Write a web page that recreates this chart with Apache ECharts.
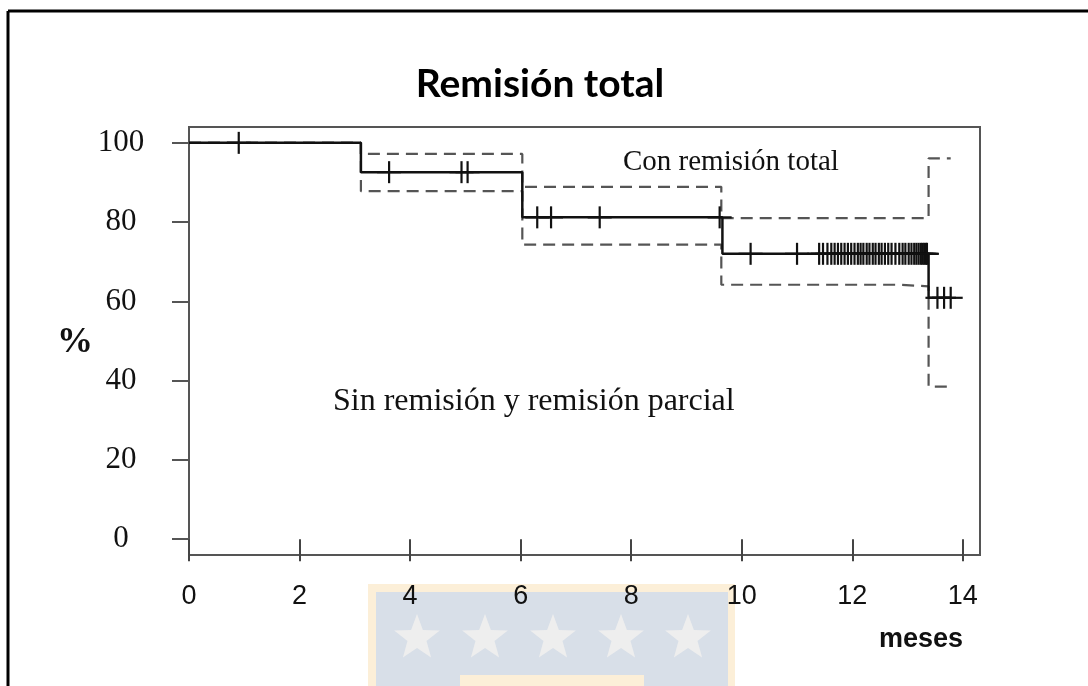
<!DOCTYPE html>
<html>
<head>
<meta charset="utf-8">
<script src="https://cdn.jsdelivr.net/npm/echarts@6/dist/echarts.min.js"></script>
<style>
  html, body { margin: 0; padding: 0; background: #fff; }
  #chart { width: 1088px; height: 686px; }
</style>
</head>
<body>
<div id="chart"></div>
<script>
// ---- data ----
const titleText = 'Remisión total';
const xTickValues = [0, 2, 4, 6, 8, 10, 12, 14];
const yTickValues = [0, 20, 40, 60, 80, 100];
const xAxisName = 'meses';
const yAxisName = '%';
const upperLabel = 'Con remisión total';
const lowerLabel = 'Sin remisión y remisión parcial';

// Kaplan-Meier step curve (months, %)
const kmTimes = [0, 3.11, 6.03, 9.65, 13.38, 13.78];
const kmSurv  = [100, 92.6, 81.2, 72.0, 60.9, 60.9];
// Confidence band (dashed)
const upperTimes = [0, 3.11, 6.03, 9.63, 13.38, 13.78];
const upperSurv  = [100, 97.2, 88.9, 81.0, 96.1, 96.1];
const lowerTimes = [0, 3.11, 6.03, 9.63, 12.85, 13.38, 13.78];
const lowerSurv  = [100, 87.8, 74.3, 64.2, 63.8, 38.5, 38.5];
// censored observations (months)
const censorTimes = [
  0.9,
  3.62, 4.93, 5.04,
  6.30, 6.55, 7.43, 9.60,
  10.16, 11.00,
  11.40, 11.47, 11.55, 11.62, 11.68, 11.74, 11.80, 11.86, 11.92, 11.98,
  12.04, 12.10, 12.15, 12.20, 12.26, 12.31, 12.37, 12.42, 12.48, 12.53,
  12.59, 12.65, 12.71, 12.78, 12.85, 12.91, 12.96, 13.02, 13.07, 13.12,
  13.16, 13.20, 13.24, 13.27, 13.30, 13.33, 13.35,
  13.54, 13.66, 13.78
];

// ---- helpers ----
function pairs(xs, ys) { return xs.map((x, i) => [x, ys[i]]); }
function survAt(t) {
  let s = kmSurv[0];
  for (let i = 1; i < kmTimes.length; i++) { if (kmTimes[i] < t) s = kmSurv[i]; }
  return s;
}
const censorData = censorTimes.map(t => [t, survAt(t)]);

function starPoints(cx, cy, R, r) {
  const pts = [];
  for (let i = 0; i < 10; i++) {
    const a = -Math.PI / 2 + i * Math.PI / 5;
    const rad = i % 2 === 0 ? R : r;
    pts.push([cx + rad * Math.cos(a), cy + rad * Math.sin(a)]);
  }
  return pts;
}
const starCenters = [417, 485, 553, 621, 688];

const chart = echarts.init(document.getElementById('chart'), null, { renderer: 'canvas' });

const graphics = [
  // slide frame
  { type: 'line', z: 100, shape: { x1: 8, y1: 11, x2: 1088, y2: 11 }, style: { stroke: '#000', lineWidth: 3 } },
  { type: 'line', z: 100, shape: { x1: 8, y1: 11, x2: 8, y2: 686 }, style: { stroke: '#000', lineWidth: 3 } },
  // watermark logo behind the x labels
  { type: 'rect', z: -10, shape: { x: 368, y: 584, width: 367, height: 102 }, style: { fill: '#fcefd8' } },
  { type: 'rect', z: -9, shape: { x: 376, y: 592, width: 352, height: 94 }, style: { fill: '#d8dfe8' } },
  { type: 'rect', z: -8, shape: { x: 460, y: 675, width: 184, height: 11 }, style: { fill: '#fcefd8' } },
  // title & texts
  { type: 'text', z: 100, x: 540, y: 84, style: { text: titleText, font: 'bold 39px Lato', fill: '#000', align: 'center', verticalAlign: 'middle' } },
  { type: 'text', z: 100, x: 75, y: 343, style: { text: yAxisName, font: 'bold 36px "Liberation Serif"', fill: '#111', align: 'center', verticalAlign: 'middle' } },
  { type: 'text', z: 100, x: 963, y: 640, style: { text: xAxisName, font: 'bold 27px "Liberation Sans"', fill: '#111', align: 'right', verticalAlign: 'middle' } },
  { type: 'text', z: 100, x: 623, y: 162, style: { text: upperLabel, font: '29px "Liberation Serif"', fill: '#111', align: 'left', verticalAlign: 'middle' } },
  { type: 'text', z: 100, x: 333, y: 402, style: { text: lowerLabel, font: '32px "Liberation Serif"', fill: '#111', align: 'left', verticalAlign: 'middle' } }
];
starCenters.forEach(cx => {
  graphics.push({ type: 'polygon', z: -7, shape: { points: starPoints(cx, 638, 24, 10) }, style: { fill: '#eeeeee' } });
});

const option = {
  backgroundColor: '#fff',
  animation: false,
  grid: { left: 189, top: 127, width: 791, height: 428, show: true, borderColor: '#555', borderWidth: 2, backgroundColor: 'transparent' },
  xAxis: {
    type: 'value', min: 0, max: 14.31,
    axisLine: { show: false },
    splitLine: { show: false },
    axisTick: { show: true, length: 22, lineStyle: { color: '#444', width: 2 }, customValues: xTickValues },
    axisLabel: { customValues: xTickValues, margin: 28, color: '#111', fontSize: 27, fontFamily: '"Liberation Sans", Arial, sans-serif' }
  },
  yAxis: {
    type: 'value', min: -4, max: 104,
    axisLine: { show: false },
    splitLine: { show: false },
    axisTick: { show: true, length: 17, lineStyle: { color: '#555', width: 2 }, customValues: yTickValues },
    axisLabel: { customValues: yTickValues, margin: 68, align: 'center', color: '#111', fontSize: 31, fontFamily: '"Liberation Serif", "Times New Roman", serif' }
  },
  graphic: graphics,
  series: [
    {
      type: 'line', step: 'end', data: pairs(upperTimes, upperSurv), symbol: 'none',
      lineStyle: { color: '#555', width: 2.2, type: [12, 7] }, z: 2
    },
    {
      type: 'line', step: 'end', data: pairs(lowerTimes, lowerSurv), symbol: 'none',
      lineStyle: { color: '#555', width: 2.2, type: [12, 7] }, z: 2
    },
    {
      type: 'line', step: 'end', data: pairs(kmTimes, kmSurv), symbol: 'none',
      lineStyle: { color: '#111', width: 2.5 }, z: 3
    },
    {
      type: 'custom', z: 4,
      data: censorData,
      renderItem: function (params, api) {
        const p = api.coord([api.value(0), api.value(1)]);
        return {
          type: 'group',
          children: [
            { type: 'line', shape: { x1: p[0], y1: p[1] - 11, x2: p[0], y2: p[1] + 11 }, style: { stroke: '#111', lineWidth: 2.2 } },
            { type: 'line', shape: { x1: p[0] - 12, y1: p[1], x2: p[0] + 12, y2: p[1] }, style: { stroke: '#111', lineWidth: 2.2 } }
          ]
        };
      }
    }
  ]
};
chart.setOption(option);
</script>
</body>
</html>
